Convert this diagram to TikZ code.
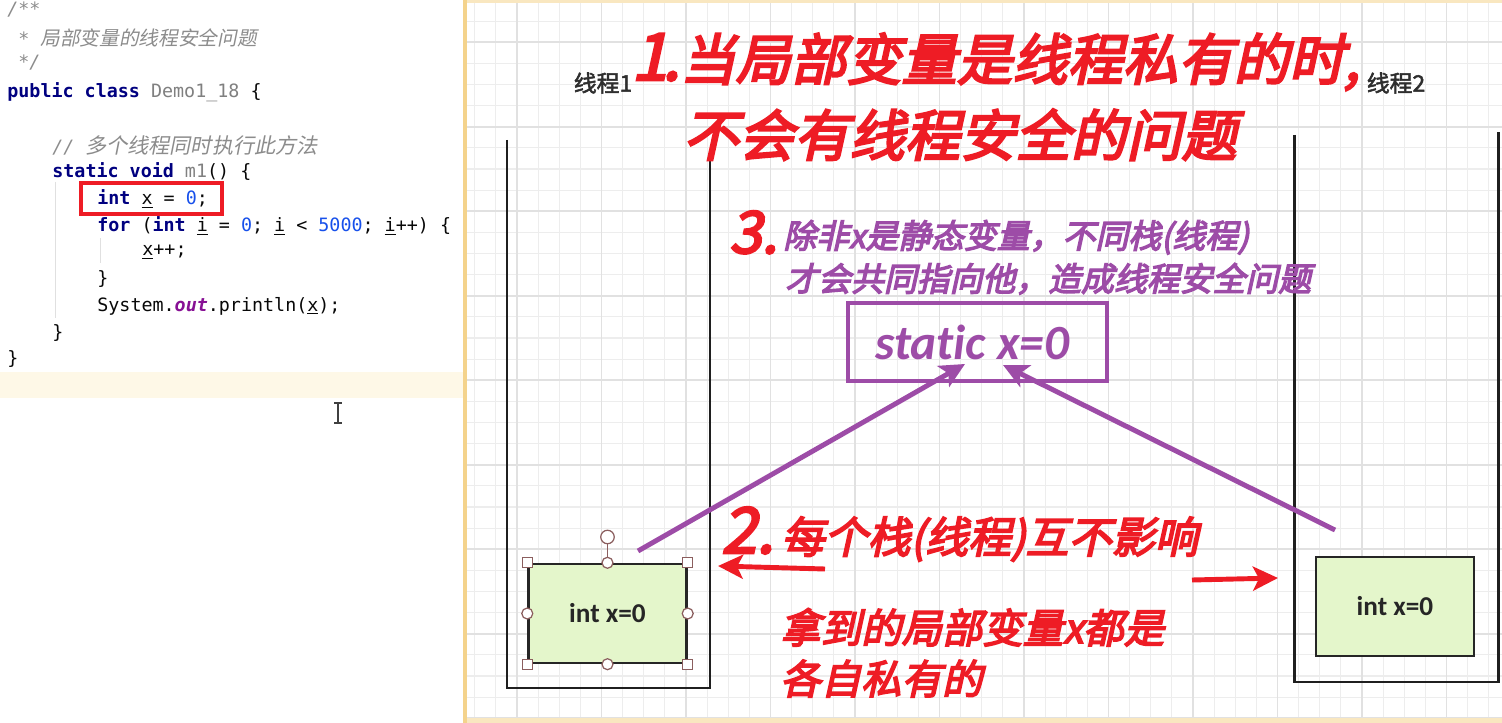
\documentclass[tikz,border=0pt]{standalone}
\usepackage{fontspec}
\usepackage{xcolor}
\usepackage{tikz}
\usetikzlibrary{arrows.meta, positioning}
\setmonofont{DejaVu Sans Mono}
\newfontfamily\cjk{Noto Sans CJK SC}
\newfontfamily\cjkit[FakeSlant=0.2]{Noto Sans CJK SC}
\newfontfamily\cjkheavy[FakeSlant=0.22,FakeBold=4]{Noto Sans CJK SC}
\newfontfamily\cjklabel[FakeBold=2.2]{Noto Sans CJK SC}
\newfontfamily\calib[Ligatures=NoCommon]{Carlito}
\definecolor{kwNavy}{HTML}{000080}
\definecolor{numBlue}{HTML}{1750EB}
\definecolor{cmtGray}{HTML}{8C8C8C}
\definecolor{unusedGray}{HTML}{808080}
\definecolor{fieldPurple}{HTML}{871094}
\definecolor{codeInk}{HTML}{080808}
\definecolor{hlLine}{HTML}{FEF8E7}
\definecolor{sepOrange}{HTML}{F4D38C}
\definecolor{gridMinor}{HTML}{EDEDED}
\definecolor{gridMajor}{HTML}{E1E1E1}
\definecolor{noteRed}{HTML}{EE1C25}
\definecolor{notePurple}{HTML}{9D4CA7}
\definecolor{boxGreen}{HTML}{E4F6CB}
\definecolor{handleBrown}{HTML}{8B5E5E}
\definecolor{labelInk}{HTML}{2E2E2E}
\newcommand{\kw}[1]{{\bfseries\color{kwNavy}#1}}
\newcommand{\num}[1]{{\color{numBlue}#1}}
\newcommand{\uvar}[1]{\underline{#1}}

\begin{document}
\begin{tikzpicture}[
    x=0.02cm, y=-0.02cm,
    code/.style={anchor=west, inner sep=0pt, font=\ttfamily\fontsize{10.45}{12}\selectfont, text=codeInk},
    cmt/.style={code, text=cmtGray, font=\ttfamily\itshape\fontsize{10.45}{12}\selectfont},
    stackline/.style={line width=1.7pt, color=black!88},
    intbox/.style={rectangle, draw=black!85, line width=1.4pt, fill=boxGreen, minimum width=3.16cm,
                   minimum height=1.98cm, font=\calib\bfseries\fontsize{15.5}{18}\selectfont, text=black!85},
    staticbox/.style={rectangle, draw=notePurple, line width=2.8pt, minimum width=5.18cm, minimum height=1.56cm,
                      font=\calib\bfseries\itshape\fontsize{28}{32}\selectfont, text=notePurple},
    handlesq/.style={rectangle, draw=handleBrown, fill=white, line width=0.7pt, minimum size=2mm, inner sep=0pt},
    handlecirc/.style={circle, draw=handleBrown, fill=white, line width=0.7pt, minimum size=2.2mm, inner sep=0pt},
    threadlabel/.style={font=\cjklabel\fontsize{13}{15}\selectfont, text=labelInk, inner sep=0pt},
    redhead/.style={anchor=base west, inner sep=0pt, font=\cjkheavy\fontsize{31.5}{34}\selectfont, text=noteRed},
    rednum/.style={anchor=base west, inner sep=0pt, text=noteRed},
    rednote/.style={anchor=base west, inner sep=0pt, font=\cjkheavy\fontsize{23}{26}\selectfont, text=noteRed},
    purplenote/.style={anchor=base west, inner sep=0pt, font=\cjkheavy\fontsize{18.7}{21}\selectfont, text=notePurple},
    purplearrow/.style={-{Stealth[length=5mm, width=4.8mm, inset=1.2mm]}, line width=2.8pt, color=notePurple},
    redarrow/.style={-{Stealth[length=5mm, width=4.8mm, inset=1.2mm]}, line width=2.8pt, color=noteRed},
]
\useasboundingbox (0,0) rectangle (1502,723);

% code editor side
\fill[white] (0,0) rectangle (463,723);
\fill[hlLine] (0,372) rectangle (463,398);
\draw[black!12, line width=0.5pt] (55,182) -- (55,318);
\draw[black!12, line width=0.5pt] (100,238) -- (100,263);
\node[cmt] (l1) at (7,10) {/**};
\node[cmt] (l2) at (18,38) {* {\cjkit\fontsize{11.2}{12}\selectfont 局部变量的线程安全问题}};
\node[cmt] (l3) at (18,63) {*/};
\node[code] (l4) at (7,92) {\kw{public} \kw{class} {\color{unusedGray}Demo1\_18} \{};
\node[cmt] (l5) at (52,145) {// {\cjkit\fontsize{12}{13}\selectfont 多个线程同时执行此方法}};
\node[code] (l6) at (52,172) {\kw{static} \kw{void} {\color{unusedGray}m1}() \{};
\node[code] (l7) at (97,199) {\kw{int} \uvar{x} = \num{0};};
\node[code] (l8) at (97,226) {\kw{for} (\kw{int} \uvar{i} = \num{0}; \uvar{i} < \num{5000}; \uvar{i}++) \{};
\node[code] (l9) at (142,252) {\uvar{x}++;};
\node[code] (l10) at (97,279) {\}};
\node[code] (l11) at (97,306) {System.{\color{fieldPurple}\bfseries\itshape out}.println(\uvar{x});};
\node[code] (l12) at (52,333) {\}};
\node[code] (l13) at (7,359) {\}};
\draw[noteRed, line width=2pt] (81,183) rectangle (222,214);
% text cursor
\draw[black!75, line width=0.9pt] (338,403) -- (338,423);
\draw[black!75, line width=0.9pt] (334,403) -- (342,403) (334,423) -- (342,423);

% whiteboard side
\fill[white] (463,0) rectangle (1502,723);
\begin{scope}
\clip (467,3) rectangle (1502,718);
\foreach \gx in {474.8,495.925,...,1502} \draw[gridMinor, line width=0.6pt] (\gx,0) -- (\gx,723);
\foreach \gy in {0,21.125,...,723} \draw[gridMinor, line width=0.6pt] (463,\gy) -- (1502,\gy);
\foreach \gx in {517,601.5,...,1502} \draw[gridMajor, line width=0.9pt] (\gx,0) -- (\gx,723);
\foreach \gy in {42.25,126.75,...,723} \draw[gridMajor, line width=0.9pt] (463,\gy) -- (1502,\gy);
\end{scope}
\fill[sepOrange] (463,0) rectangle (467,723);
\fill[sepOrange!55] (467,0) rectangle (1502,3);
\fill[sepOrange!55] (467,718) rectangle (1502,723);

% stacks
\draw[stackline] (507,140) |- (710,688) -- (710,149);
\draw[stackline] (1294,135) |- (1498,682) -- (1498,132);
\node[threadlabel] (name1) at (603,83) {线程1};
\node[threadlabel] (name2) at (1396,83) {线程2};

% local variables
\node[intbox] (loc1) at (607.5,613.5) {int x=0};
\node[intbox] (loc2) at (1395,606.5) {int x=0};
\draw[handleBrown, line width=0.7pt] (loc1.north) -- ++(0,-20);
\node[handlecirc, minimum size=2.7mm] (rot1) at (607.5,537) {};
\foreach \a in {north west, north east, south west, south east} \node[handlesq] at (loc1.\a) {};
\foreach \a in {north, south, east, west} \node[handlecirc] at (loc1.\a) {};

% shared static
\node[staticbox] (stat) at (977.5,342) {static x=0\hspace*{6pt}};

% notes
\node[redhead] (head1) at (631,80) {{\fontsize{37}{38}\selectfont 1\kern-3pt.}当局部变量是线程私有的时,};
\node[redhead] (head2) at (683,156) {不会有线程安全的问题};
\node[rednum, font=\cjkheavy\fontsize{33}{36}\selectfont] (num3) at (729,253) {3.};
\node[purplenote] (note3a) at (783,248) {除非x是静态变量，不同栈(线程)};
\node[purplenote] (note3b) at (785,291) {才会共同指向他，造成线程安全问题};
\node[rednum, font=\cjkheavy\fontsize{36}{38}\selectfont] (num2) at (721,553) {2.};
\node[rednote, font=\cjkheavy\fontsize{24.5}{27}\selectfont] (note2a) at (781,553) {每个栈(线程)互不影响};
\node[rednote] (note2b) at (780,643) {拿到的局部变量x都是};
\node[rednote] (note2c) at (780,694) {各自私有的};

% arrows
\coordinate (from1) at (638,551);
\coordinate (from2) at (1335,530);
\coordinate (pinL) at (965,364);
\coordinate (pinR) at (1003,365);
\draw[purplearrow] (from1) -- (pinL);
\draw[purplearrow] (from2) -- (pinR);
\coordinate (r1) at (825,569);
\coordinate (wall1) at (718,566);
\coordinate (r2) at (1192,580);
\coordinate (wall2) at (1278,578);
\draw[redarrow] (r1) -- (wall1);
\draw[redarrow] (r2) -- (wall2);
\end{tikzpicture}
\end{document}
